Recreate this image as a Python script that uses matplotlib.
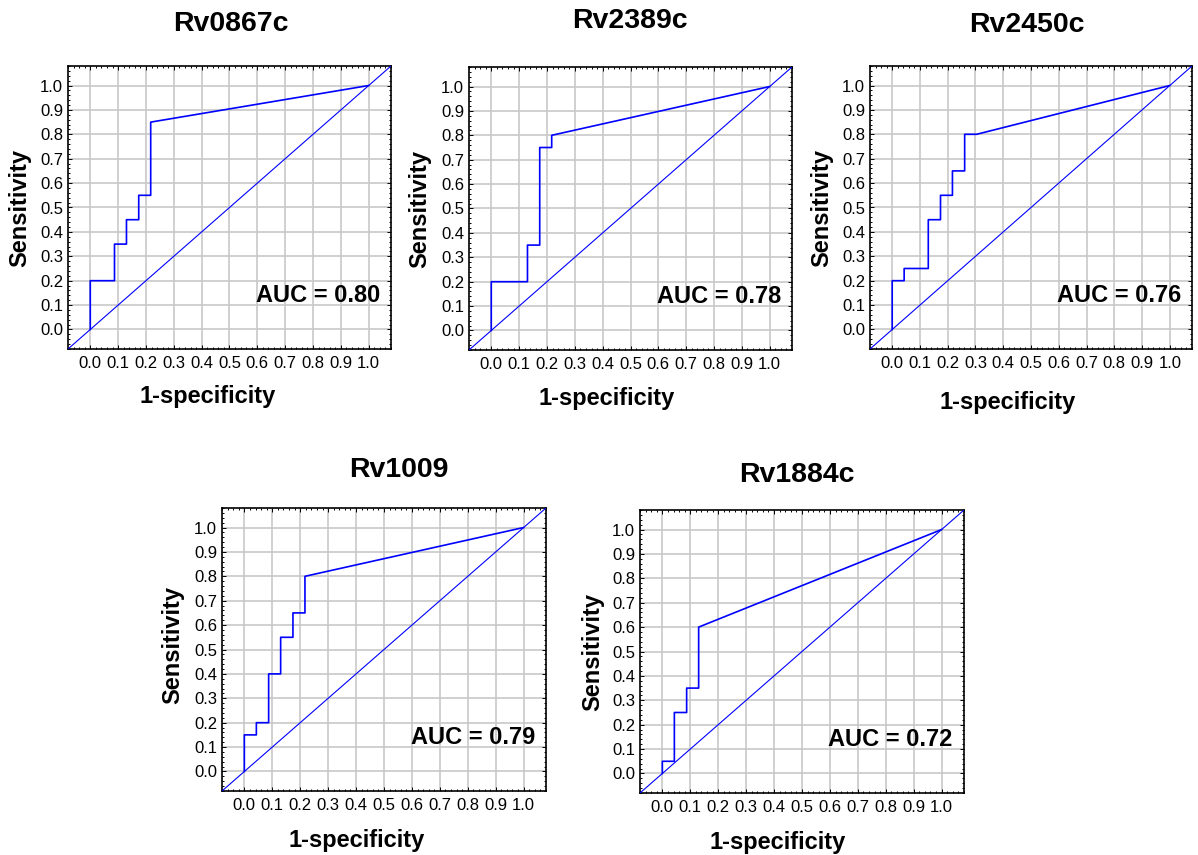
import matplotlib
matplotlib.use('Agg')
import matplotlib.pyplot as plt
from matplotlib.ticker import MultipleLocator, FormatStrFormatter

plt.rcParams['font.family'] = ['Liberation Sans', 'DejaVu Sans']

W, H = 1198, 855

genes = ['Rv0867c', 'Rv2389c', 'Rv2450c', 'Rv1009', 'Rv1884c']
auc = [0.80, 0.78, 0.76, 0.79, 0.72]

# ROC curve vertices: 1-specificity (fpr) and sensitivity (tpr)
fpr_rv0867c = [0.0, 0.0, 0.087, 0.087, 0.130, 0.130, 0.174, 0.174, 0.217, 0.217, 1.0]
tpr_rv0867c = [0.0, 0.20, 0.20, 0.35, 0.35, 0.45, 0.45, 0.55, 0.55, 0.85, 1.0]

fpr_rv2389c = [0.0, 0.0, 0.130, 0.130, 0.174, 0.174, 0.217, 0.217, 1.0]
tpr_rv2389c = [0.0, 0.20, 0.20, 0.35, 0.35, 0.75, 0.75, 0.80, 1.0]

fpr_rv2450c = [0.0, 0.0, 0.043, 0.043, 0.130, 0.130, 0.174, 0.174,
               0.217, 0.217, 0.261, 0.261, 0.304, 1.0]
tpr_rv2450c = [0.0, 0.20, 0.20, 0.25, 0.25, 0.45, 0.45, 0.55,
               0.55, 0.65, 0.65, 0.80, 0.80, 1.0]

fpr_rv1009 = [0.0, 0.0, 0.043, 0.043, 0.087, 0.087, 0.130, 0.130,
              0.174, 0.174, 0.217, 0.217, 1.0]
tpr_rv1009 = [0.0, 0.15, 0.15, 0.20, 0.20, 0.40, 0.40, 0.55,
              0.55, 0.65, 0.65, 0.80, 1.0]

fpr_rv1884c = [0.0, 0.0, 0.043, 0.043, 0.087, 0.087, 0.130, 0.130, 1.0]
tpr_rv1884c = [0.0, 0.05, 0.05, 0.25, 0.25, 0.35, 0.35, 0.60, 1.0]

fprs = [fpr_rv0867c, fpr_rv2389c, fpr_rv2450c, fpr_rv1009, fpr_rv1884c]
tprs = [tpr_rv0867c, tpr_rv2389c, tpr_rv2450c, tpr_rv1009, tpr_rv1884c]

ticks = [i / 10 for i in range(11)]

# panel layout in pixels: axes box (left, top, right, bottom), title centre,
# x label centre, y label centre
boxes = [(68, 66, 391, 349), (469, 67, 792, 350), (870, 66, 1192, 349),
         (222, 508, 546, 791), (640, 510, 964, 793)]
title_pos = [(231, 24), (630, 21), (1027, 25), (399, 470), (797, 475)]
xlab_pos = [(208, 397), (607, 398), (1008, 402), (357, 840), (778, 842)]
ylab_pos = [(20, 208), (420, 209), (822, 208), (173, 645), (593, 652)]

blue = '#0000ff'

fig = plt.figure(figsize=(W / 100, H / 100), dpi=100)

for i, gene in enumerate(genes):
    l, t, r, b = boxes[i]
    ax = fig.add_axes([l / W, 1 - b / H, (r - l) / W, (b - t) / H])

    ax.plot(fprs[i], tprs[i], color=blue, lw=1.2, zorder=3)
    ax.axline((0, 0), (1, 1), color=blue, lw=0.8, zorder=3)

    ax.set_xlim(-0.08, 1.08)
    ax.set_ylim(-0.08, 1.08)
    ax.set_xticks(ticks)
    ax.set_yticks(ticks)
    ax.xaxis.set_major_formatter(FormatStrFormatter('%.1f'))
    ax.yaxis.set_major_formatter(FormatStrFormatter('%.1f'))
    ax.xaxis.set_minor_locator(MultipleLocator(0.02))
    ax.yaxis.set_minor_locator(MultipleLocator(0.02))

    ax.grid(which='major', color='#c8c8c8', lw=1.2)
    ax.set_axisbelow(True)
    ax.tick_params(which='both', direction='in', top=True, right=True,
                   width=0.7, color='black')
    ax.tick_params(which='major', length=3, labelsize=12)
    ax.tick_params(which='minor', length=1.5)
    ax.tick_params(axis='x', pad=5)
    ax.tick_params(axis='y', pad=3.5)
    for sp in ax.spines.values():
        sp.set_linewidth(1.2)

    ax.text(1.04, 0.14, f'AUC = {auc[i]:.2f}', ha='right', va='center',
            fontsize=17, fontweight='bold', zorder=4)

    fig.text(title_pos[i][0] / W, 1 - title_pos[i][1] / H, gene,
             ha='center', va='center', fontsize=20.5, fontweight='bold')
    fig.text(xlab_pos[i][0] / W, 1 - xlab_pos[i][1] / H, '1-specificity',
             ha='center', va='center', fontsize=17, fontweight='bold')
    fig.text(ylab_pos[i][0] / W, 1 - ylab_pos[i][1] / H, 'Sensitivity',
             ha='center', va='center', rotation=90, fontsize=17,
             fontweight='bold')

fig.savefig('out.png', dpi=100)
